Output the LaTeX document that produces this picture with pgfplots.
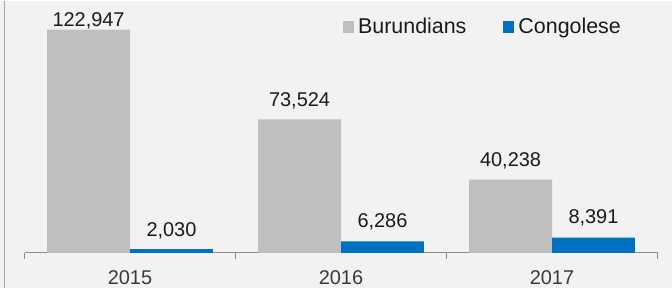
\documentclass[border=0pt]{standalone}
\usepackage{fontspec}
\setmainfont{Liberation Sans}
\usepackage{pgfplots}
\usepackage{pgfplotstable}
\pgfplotsset{compat=1.18}
\definecolor{bg}{HTML}{F2F2F2}
\definecolor{grayb}{HTML}{BFBFBF}
\definecolor{blueb}{HTML}{0070C0}
\definecolor{axisc}{HTML}{8C8C8C}
\definecolor{txt}{HTML}{1A1A1A}
\definecolor{ticktxt}{HTML}{3A3A3A}

\pgfplotstableread{
x y lab off
0 122947 122,947 3
1 73524 73,524 13
2 40238 40,238 13.5
}\burundi
\pgfplotstableread{
x y lab off
0 2030 2,030 12.5
1 6286 6,286 13.5
2 8391 8,391 14
}\congo

\begin{document}
\begin{tikzpicture}
\fill[bg] (0,0) rectangle (672bp,287bp);
\draw[line width=1.5bp, color=black!35] (4.5bp,0) -- (4.5bp,287bp);
\begin{axis}[
  at={(24.5bp,35bp)}, anchor=south west,
  scale only axis, width=633bp, height=252bp,
  xmin=-0.5, xmax=2.5, ymin=0, ymax=138843,
  ybar=0pt, bar width=0.393,
  hide y axis,
  axis x line*=bottom,
  x axis line style={axisc, line width=1bp},
  xtick={0,1,2}, xticklabels={2015,2016,2017},
  major tick length=0pt,
  minor xtick={-0.5,0.5,1.5,2.5},
  minor tick length=6bp, tick align=outside,
  minor tick style={axisc, line width=1bp},
  xticklabel style={font=\fontsize{20}{24}\selectfont, text=ticktxt, anchor=base, yshift=-32bp},
  clip=false,
  legend style={at={(0.503,0.897)}, anchor=west, draw=none, fill=none,
    inner xsep=0pt, inner ysep=0pt,
    font=\fontsize{21.5}{24}\selectfont, text=txt,
    /tikz/every even column/.append style={column sep=33bp},
    nodes={inner xsep=4bp}},
  legend columns=2,
  legend image code/.code={\fill[#1] (0bp,-6bp) rectangle (11bp,6bp);},
  nodes near coords={\pgfplotspointmeta},
  point meta=explicit symbolic,
  visualization depends on={\thisrow{off}\as\myoff},
  nodes near coords style={anchor=base, yshift=\myoff bp, font=\fontsize{20}{24}\selectfont, text=txt, inner sep=0pt},
]
\addplot[fill=grayb, draw=none] table[x=x, y=y, meta=lab] {\burundi};
\addlegendentry{Burundians}
\addplot[fill=blueb, draw=none] table[x=x, y=y, meta=lab] {\congo};
\addlegendentry{Congolese}
\end{axis}
\end{tikzpicture}
\end{document}
